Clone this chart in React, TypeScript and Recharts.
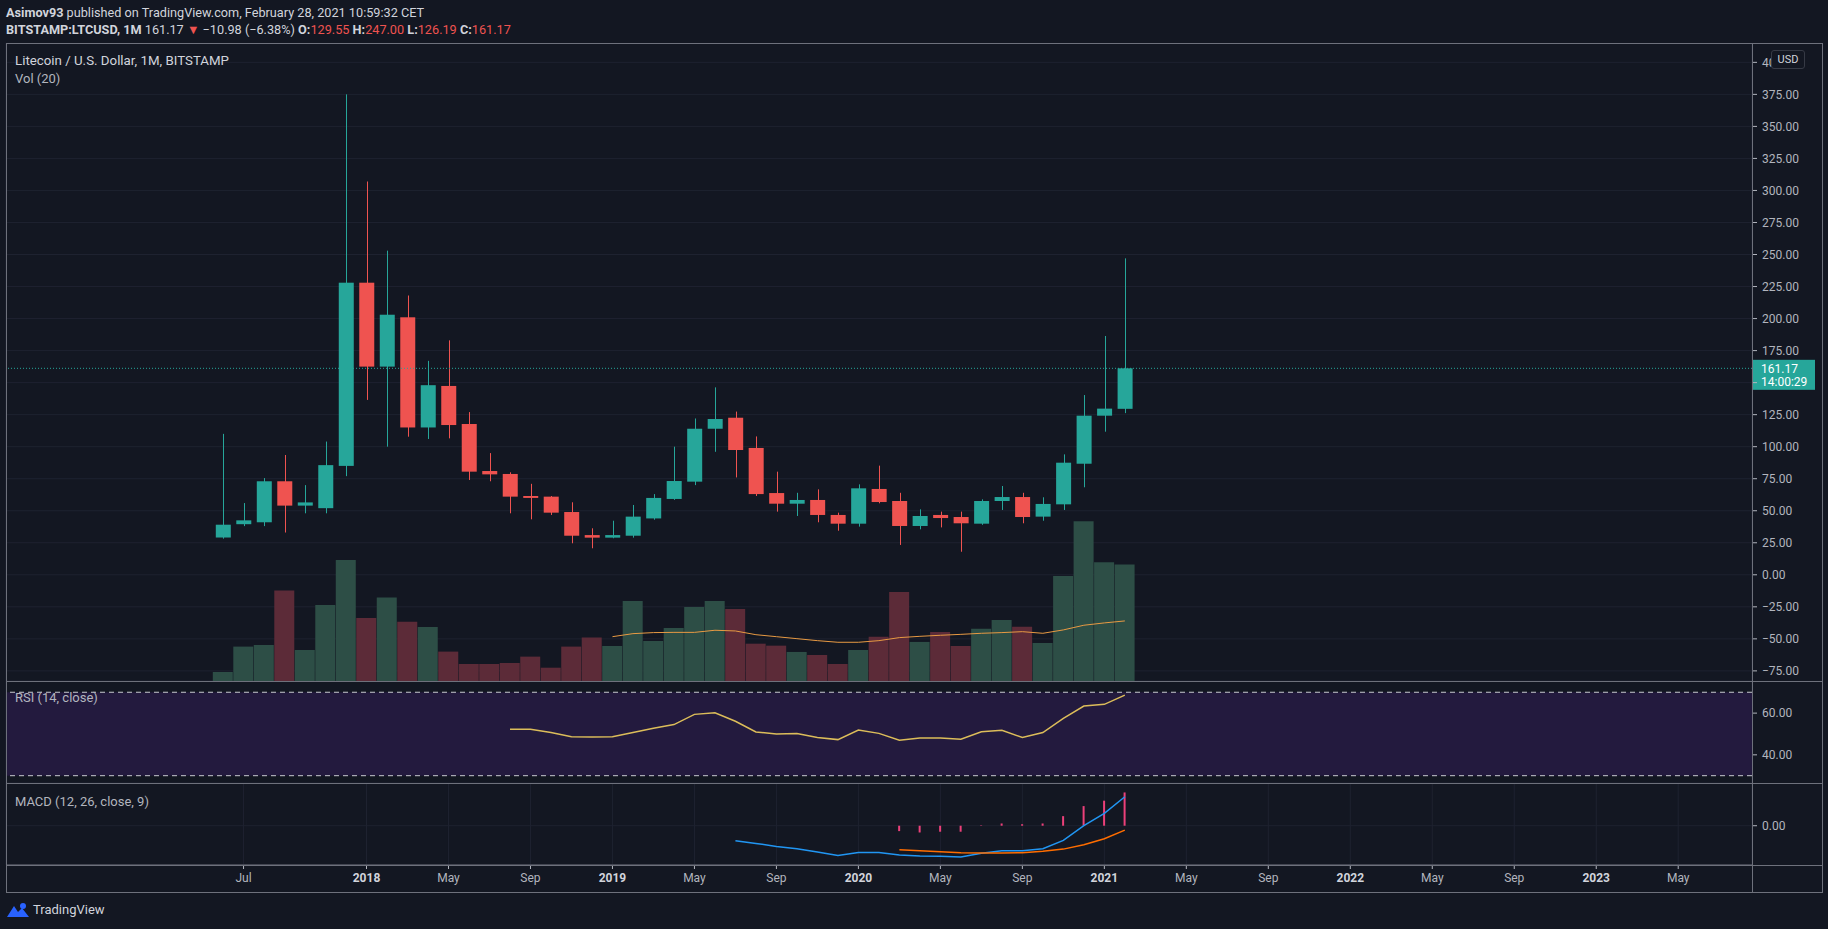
import React from 'react';
import {
  ComposedChart,
  Bar,
  Line,
  XAxis,
  YAxis,
  CartesianGrid,
  ReferenceLine,
  ReferenceArea,
  Cell,
} from 'recharts';

// monthly bars, Jun 2017 .. Feb 2021 (x = month index)
const months = [
  'Jun 2017', 'Jul 2017', 'Aug 2017', 'Sep 2017', 'Oct 2017', 'Nov 2017', 'Dec 2017',
  'Jan 2018', 'Feb 2018', 'Mar 2018', 'Apr 2018', 'May 2018', 'Jun 2018', 'Jul 2018',
  'Aug 2018', 'Sep 2018', 'Oct 2018', 'Nov 2018', 'Dec 2018', 'Jan 2019', 'Feb 2019',
  'Mar 2019', 'Apr 2019', 'May 2019', 'Jun 2019', 'Jul 2019', 'Aug 2019', 'Sep 2019',
  'Oct 2019', 'Nov 2019', 'Dec 2019', 'Jan 2020', 'Feb 2020', 'Mar 2020', 'Apr 2020',
  'May 2020', 'Jun 2020', 'Jul 2020', 'Aug 2020', 'Sep 2020', 'Oct 2020', 'Nov 2020',
  'Dec 2020', 'Jan 2021', 'Feb 2021',
];

const open = [
  29.1, 39.5, 41, 73, 54, 52, 85, 228, 162.5, 201, 115, 147.4, 117.7, 81, 78.7, 61.5,
  61, 49, 31, 29, 30.5, 44, 59.2, 72.7, 114, 122.6, 99, 63.8, 55.5, 58.4, 46.7, 39.9,
  67, 57.6, 38.1, 46.7, 45.1, 39.9, 57.6, 60.7, 45.4, 55, 86.7, 124.2, 129.55,
];
const high = [
  110, 56, 75.5, 93.5, 70, 104, 375, 307, 253, 218, 167, 183, 127, 95, 80, 71, 61.5,
  56.6, 36.3, 42.2, 54.5, 63, 100, 122, 146.3, 127.4, 108, 80.5, 64, 66.7, 48.5, 70.6,
  85.2, 64, 51.1, 49.3, 49.3, 58.9, 69.3, 64, 60.5, 94, 140.3, 186.4, 247,
];
const low = [
  28.2, 38, 38, 33, 48, 48, 77, 136.5, 100, 107.8, 106, 106.5, 74, 73, 48, 43.3, 46.7,
  24.6, 20.7, 28.5, 29, 43, 58.5, 70, 96, 76, 61.5, 49.3, 45.9, 41, 34.4, 37.6, 55.8,
  23.3, 35.5, 37, 18, 39, 50.6, 40.2, 42.2, 50.6, 68.3, 111.7, 126.19,
];
const close = [
  39.1, 42.5, 73, 54, 56.5, 85.6, 228, 162.5, 203, 115, 148, 116.9, 80.5, 78.4, 61, 60,
  48.5, 30.5, 29, 31, 45.4, 60, 73.2, 114, 121.6, 97.4, 63, 55.5, 58.4, 46.7, 39.9, 67.5,
  56.8, 38.1, 45.9, 44.3, 40.2, 57.6, 60.7, 45.1, 55.3, 87.5, 124.2, 129.7, 161.17,
];

const volume = [
  7.7, 29.5, 30.9, 77.5, 26.6, 65.2, 103.8, 54, 71.5, 50.9, 46.3, 25.2, 14.6, 14.6,
  15.4, 20.9, 11.4, 29.5, 37.2, 30, 68.6, 34.3, 45.5, 63.5, 68.6, 61.8, 32, 30.3, 24.9,
  22.3, 14.6, 26.6, 38, 76.4, 33.5, 42, 30, 44.9, 52.3, 46.6, 32.6, 90.1, 137, 101.8, 99.8,
];
const volumeMA = [
  null, null, null, null, null, null, null, null, null, null, null, null, null, null,
  null, null, null, null, null, 38, 40.6, 41.5, 41.7, 41.7, 43.5, 42.9, 39.7, 38, 36.3,
  34.6, 33.2, 33.2, 34.6, 37.2, 38.3, 39.2, 40, 40.9, 41.5, 42.3, 40.9, 43.8, 47.8, 49.8, 51.5,
];

const rsi = [
  null, null, null, null, null, null, null, null, null, null, null, null, null, null,
  52.3, 52.3, 50.7, 48.7, 48.6, 48.7, 50.7, 52.7, 54.5, 59.4, 60.2, 56.1, 51, 50, 50.2,
  48.3, 47.3, 51.9, 50.3, 47, 48.1, 48.1, 47.5, 51.1, 51.8, 48.3, 50.7, 57.5, 63.4, 64.2, 68.6,
];

const macdLine = [
  null, null, null, null, null, null, null, null, null, null, null, null, null, null,
  null, null, null, null, null, null, null, null, null, null, null, -10, -11.8, -13.8,
  -15.3, -17.6, -19.8, -17.8, -17.8, -19.6, -20.2, -20.4, -20.9, -18.4, -16.7, -16.7,
  -15.3, -9.8, 0, 8.2, 19.3,
];
const signalLine = [
  null, null, null, null, null, null, null, null, null, null, null, null, null, null,
  null, null, null, null, null, null, null, null, null, null, null, null, null, null,
  null, null, null, null, null, -16, -16.7, -17.3, -18, -18.2, -18.2, -18, -17.1, -15.6,
  -12.7, -8.7, -2.9,
];
const histogram = [
  null, null, null, null, null, null, null, null, null, null, null, null, null, null,
  null, null, null, null, null, null, null, null, null, null, null, null, null, null,
  null, null, null, null, null, -3.6, -4.5, -4, -4, 0.3, 1.5, 1, 1.5, 6.4, 13.1, 16.7, 22.2,
];

const timeTicks = [1, 7, 11, 15, 19, 23, 27, 31, 35, 39, 43, 47, 51, 55, 59, 63, 67, 71];
const timeLabels = [
  'Jul', '2018', 'May', 'Sep', '2019', 'May', 'Sep', '2020', 'May', 'Sep', '2021',
  'May', 'Sep', '2022', 'May', 'Sep', '2023', 'May',
];
const priceTicks = [
  -75, -50, -25, 0, 25, 50, 75, 100, 125, 150, 175, 200, 225, 250, 275, 300, 325, 350, 375, 400,
];
const rsiTicks = [40, 60];
const macdTicks = [0];

const lastPrice = 161.17;
const countdown = '14:00:29';

const data = months.map((m, i) => ({
  i,
  month: m,
  open: open[i],
  close: close[i],
  range: [low[i], high[i]],
  volume: volume[i],
  volMA: volumeMA[i],
  rsi: rsi[i],
  macd: macdLine[i],
  signal: signalLine[i],
  hist: histogram[i],
}));

const BG = '#131722';
const UP = '#26a69a';
const DOWN = '#ef5350';
const VOL_UP = '#2d4e46';
const VOL_DOWN = '#5c2b38';
const GRID = '#1e2230';
const FRAME = '#6e717c';
const TEXT = '#b2b5be';
const FONT = "Roboto, 'Liberation Sans', sans-serif";

const W = 1828;
const MARGIN = { top: 0, right: 6, bottom: 0, left: 6 };
const X_DOMAIN: [number, number] = [-10.59, 74.6];

const fmt = (v: number) => (v < 0 ? '\u2212' + Math.abs(v).toFixed(2) : v.toFixed(2));

function Candle(props: any) {
  const { x, y, width, height, payload } = props;
  if (!payload || height == null) return null;
  const [lo, hi] = payload.range;
  const top = Math.min(y, y + height);
  const h = Math.abs(height);
  const per = h / (hi - lo);
  const yOf = (v: number) => top + (hi - v) * per;
  const up = payload.close >= payload.open;
  const color = up ? UP : DOWN;
  const bTop = yOf(Math.max(payload.open, payload.close));
  const bBot = yOf(Math.min(payload.open, payload.close));
  const cx = Math.round(x + width / 2) + 0.5;
  return (
    <g>
      <line x1={cx} x2={cx} y1={top} y2={top + h} stroke={color} strokeWidth={1} />
      <rect x={x} y={bTop} width={width} height={Math.max(1.5, bBot - bTop)} fill={color} />
    </g>
  );
}

function PriceTag(props: any) {
  const vb = props.viewBox;
  if (!vb) return null;
  const x = vb.x + vb.width;
  const y = vb.y;
  return (
    <g>
      <rect x={x} y={y - 8.5} width={63} height={30} fill={UP} />
      <text x={x + 9} y={y + 4.5} fill="#ffffff" fontSize={12} fontFamily={FONT}>
        {lastPrice.toFixed(2)}
      </text>
      <text x={x + 9} y={y + 18} fill="#ffffff" fontSize={12} fontFamily={FONT}>
        {countdown}
      </text>
    </g>
  );
}

// price axis label; the one hidden under the last-price tag is not drawn
function PriceTick(props: any) {
  const { x, y, payload } = props;
  if (Math.abs(payload.value - lastPrice) < 12) return null;
  return (
    <text x={x} y={y} dy="0.355em" textAnchor="start" fill={TEXT} fontSize={12} fontFamily={FONT}>
      {fmt(payload.value)}
    </text>
  );
}

function TimeTick(props: any) {
  const { x, y, payload } = props;
  const idx = timeTicks.indexOf(payload.value);
  const label = timeLabels[idx] ?? '';
  const isYear = /^\d{4}$/.test(label);
  return (
    <text
      x={x}
      y={y}
      dy="0.71em"
      textAnchor="middle"
      fill={isYear ? '#d1d4dc' : TEXT}
      fontWeight={isYear ? 700 : 400}
      fontSize={12}
      fontFamily={FONT}
    >
      {label}
    </text>
  );
}

const axisTick = { fill: TEXT, fontSize: 12, fontFamily: FONT };

function Rule({ left, top, width, height }: { left: number; top: number; width: number; height: number }) {
  return <div style={{ position: 'absolute', left, top, width, height, background: FRAME }} />;
}

export default function App() {
  return (
    <div
      style={{
        position: 'fixed',
        left: 0,
        top: 0,
        width: W,
        height: 929,
        background: BG,
        fontFamily: FONT,
        color: '#d1d4dc',
        overflow: 'hidden',
      }}
    >
      {/* header */}
      <div style={{ position: 'absolute', left: 6, top: 4, fontSize: 12.7, lineHeight: '17px', whiteSpace: 'nowrap' }}>
        <b>Asimov93</b> published on TradingView.com, February 28, 2021 10:59:32 CET
      </div>
      <div style={{ position: 'absolute', left: 6, top: 21, fontSize: 12.7, lineHeight: '17px', whiteSpace: 'nowrap' }}>
        <b>BITSTAMP:LTCUSD, 1M</b> 161.17 <span style={{ color: DOWN }}>▼</span> −10.98 (−6.38%){' '}
        <b>O:</b><span style={{ color: DOWN }}>129.55</span> <b>H:</b><span style={{ color: DOWN }}>247.00</span>{' '}
        <b>L:</b><span style={{ color: DOWN }}>126.19</span> <b>C:</b><span style={{ color: DOWN }}>161.17</span>
      </div>

      {/* price + volume pane */}
      <div style={{ position: 'absolute', left: 0, top: 43 }}>
        <ComposedChart width={W} height={638} data={data} margin={MARGIN}>
          <CartesianGrid stroke={GRID} />
          <XAxis
            dataKey="i"
            type="number"
            domain={X_DOMAIN}
            allowDataOverflow
            ticks={timeTicks}
            interval={0}
            height={0}
            tick={false}
            tickLine={false}
            axisLine={false}
          />
          <XAxis xAxisId="v" dataKey="i" type="number" domain={X_DOMAIN} allowDataOverflow hide />
          <YAxis
            orientation="right"
            width={70}
            domain={[-82.9, 415.1]}
            allowDataOverflow
            ticks={priceTicks}
            interval={0}
            tick={<PriceTick />}
            tickSize={5}
            tickMargin={5}
            tickLine={{ stroke: TEXT }}
            axisLine={false}
          />
          <YAxis yAxisId="v" domain={[0, 547]} allowDataOverflow hide />
          <Bar xAxisId="v" yAxisId="v" dataKey="volume" barSize={20} isAnimationActive={false}>
            {data.map((d) => (
              <Cell key={d.month} fill={d.close >= d.open ? VOL_UP : VOL_DOWN} />
            ))}
          </Bar>
          <Line
            xAxisId="v"
            yAxisId="v"
            dataKey="volMA"
            stroke="#e89a43"
            strokeWidth={1}
            dot={false}
            activeDot={false}
            isAnimationActive={false}
          />
          <ReferenceLine y={lastPrice} stroke={UP} strokeDasharray="1 2" label={<PriceTag />} />
          <Bar dataKey="range" barSize={15} shape={<Candle />} isAnimationActive={false} />
        </ComposedChart>
      </div>

      {/* RSI pane */}
      <div style={{ position: 'absolute', left: 0, top: 681 }}>
        <ComposedChart width={W} height={102} data={data} margin={MARGIN}>
          <ReferenceArea y1={30} y2={70} fill="#231a3e" fillOpacity={1} stroke="none" />
          <CartesianGrid stroke={GRID} />
          <XAxis
            dataKey="i"
            type="number"
            domain={X_DOMAIN}
            allowDataOverflow
            ticks={timeTicks}
            interval={0}
            height={0}
            tick={false}
            tickLine={false}
            axisLine={false}
          />
          <YAxis
            orientation="right"
            width={70}
            domain={[26.5, 75.4]}
            allowDataOverflow
            ticks={rsiTicks}
            interval={0}
            tickFormatter={fmt}
            tick={axisTick}
            tickSize={5}
            tickMargin={5}
            tickLine={{ stroke: TEXT }}
            axisLine={false}
          />
          <ReferenceLine y={70} stroke="#c8cad0" strokeDasharray="5 4" />
          <ReferenceLine y={30} stroke="#c8cad0" strokeDasharray="5 4" />
          <Line
            dataKey="rsi"
            stroke="#dcbd5a"
            strokeWidth={1.5}
            dot={false}
            activeDot={false}
            isAnimationActive={false}
          />
        </ComposedChart>
      </div>

      {/* MACD pane + time axis */}
      <div style={{ position: 'absolute', left: 0, top: 783 }}>
        <ComposedChart width={W} height={109} data={data} margin={MARGIN}>
          <CartesianGrid stroke={GRID} />
          <XAxis
            dataKey="i"
            type="number"
            domain={X_DOMAIN}
            allowDataOverflow
            ticks={timeTicks}
            interval={0}
            height={27}
            tick={<TimeTick />}
            tickSize={4}
            tickMargin={4}
            tickLine={{ stroke: TEXT }}
            axisLine={{ stroke: FRAME }}
          />
          <YAxis
            orientation="right"
            width={70}
            domain={[-26.2, 28.5]}
            allowDataOverflow
            ticks={macdTicks}
            interval={0}
            tickFormatter={fmt}
            tick={axisTick}
            tickSize={5}
            tickMargin={5}
            tickLine={{ stroke: TEXT }}
            axisLine={false}
          />
          <Bar dataKey="hist" barSize={2} fill="#ec407a" isAnimationActive={false} />
          <Line
            dataKey="macd"
            stroke="#2196f3"
            strokeWidth={1.5}
            dot={false}
            activeDot={false}
            isAnimationActive={false}
          />
          <Line
            dataKey="signal"
            stroke="#ff6d00"
            strokeWidth={1.5}
            dot={false}
            activeDot={false}
            isAnimationActive={false}
          />
        </ComposedChart>
      </div>

      {/* pane frame */}
      <Rule left={6} top={43} width={1817} height={1} />
      <Rule left={6} top={681} width={1817} height={1} />
      <Rule left={6} top={783} width={1817} height={1} />
      <Rule left={6} top={865} width={1817} height={1} />
      <Rule left={6} top={892} width={1817} height={1} />
      <Rule left={6} top={43} width={1} height={850} />
      <Rule left={1752} top={43} width={1} height={850} />
      <Rule left={1822} top={43} width={1} height={850} />

      {/* pane legends */}
      <div style={{ position: 'absolute', left: 15, top: 52, fontSize: 13.3, lineHeight: '17px', color: '#d1d4dc' }}>
        Litecoin / U.S. Dollar, 1M, BITSTAMP
      </div>
      <div style={{ position: 'absolute', left: 15, top: 70, fontSize: 13, lineHeight: '17px', color: TEXT }}>
        Vol (20)
      </div>
      <div style={{ position: 'absolute', left: 15, top: 689, fontSize: 13, lineHeight: '17px', color: TEXT }}>
        RSI (14, close)
      </div>
      <div style={{ position: 'absolute', left: 15, top: 793, fontSize: 13, lineHeight: '17px', color: TEXT }}>
        MACD (12, 26, close, 9)
      </div>

      {/* currency badge */}
      <div
        style={{
          position: 'absolute',
          left: 1771,
          top: 50,
          width: 32,
          height: 17,
          background: BG,
          border: '1px solid #363a45',
          borderRadius: 3,
          fontSize: 11,
          lineHeight: '17px',
          textAlign: 'center',
          color: '#d1d4dc',
        }}
      >
        USD
      </div>

      {/* footer */}
      <svg style={{ position: 'absolute', left: 6, top: 902 }} width={24} height={16} viewBox="0 0 24 16">
        <path d="M1 15 L8 4 L12 10 L16 6 L23 15 Z" fill="#2962ff" />
        <circle cx={17} cy={4} r={3} fill="#2962ff" />
      </svg>
      <div style={{ position: 'absolute', left: 33, top: 901, fontSize: 13, lineHeight: '17px', color: '#d1d4dc' }}>
        TradingView
      </div>
    </div>
  );
}
